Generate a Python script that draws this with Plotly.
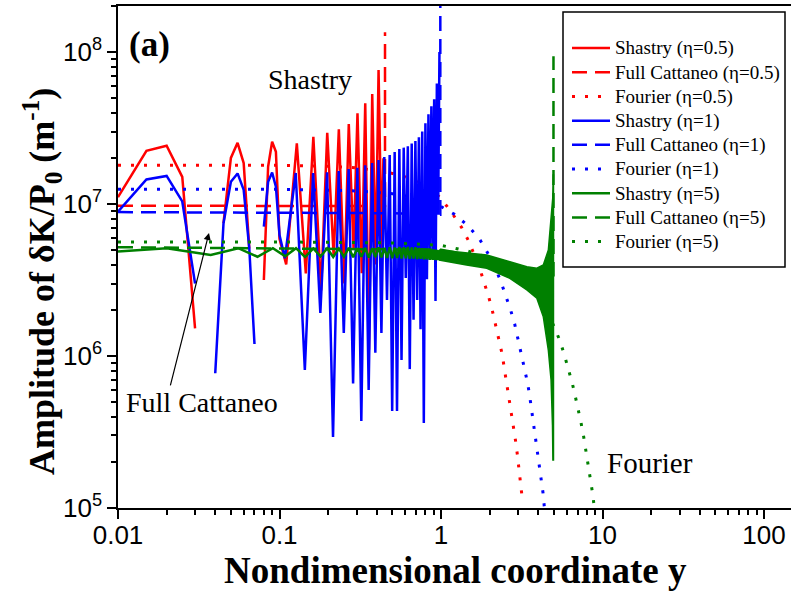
import plotly.graph_objects as go

RED = "#ff0000"
BLUE = "#0000ff"
GREEN = "#008000"

# ---------------- data ----------------
# Shastry, eta = 0.5
shastry_05_x = [0.01, 0.015, 0.02, 0.025, 0.03, 0.035, 0.045, 0.05, 0.055, 0.06, 0.065, 0.07,
                0.08, 0.085, 0.09, 0.095, 0.1, 0.11, 0.128, 0.1455, 0.162, 0.181, 0.1975, 0.2165,
                0.233, 0.252, 0.2685, 0.2875, 0.304, 0.323, 0.3395, 0.358, 0.375, 0.394, 0.4105,
                0.429, 0.44]
shastry_05_y = [1.11e7, 2.24e7, 2.42e7, 1.51e7, 1.52e6, None, 7.5e6, 2.01e7, 2.53e7, 1.86e7, 5.1e6, None,
                3.16e6, 1.76e7, 2.57e7, 2.21e7, 5.9e6, 4.0e6, 2.51e7, 3.5e6, 2.77e7, 2.7e6, 2.94e7, 4.5e6,
                3.10e7, 3.0e6, 3.36e7, 5.0e6, 3.95e7, 3.5e6, 4.60e7, 1.1e6, 5.29e7, 4.0e6, 7.62e7,
                5.0e6, 2.0e7]

# Full Cattaneo, eta = 0.5
cattaneo_05_x = [0.01, 0.45, 0.45]
cattaneo_05_y = [9.75e6, 9.7e6, 1.35e8]

# Fourier, eta = 0.5
fourier_05_x = [0.01, 0.1, 0.2, 0.3, 0.4, 0.5, 0.6, 0.7, 0.8, 0.9, 1.0, 1.165, 1.34, 1.49, 1.74,
                1.87, 1.98, 2.09, 2.19, 2.29, 2.39, 2.47, 2.55, 2.64, 2.72, 2.80, 2.89, 2.97, 3.03,
                3.10, 3.18]
fourier_05_y = [1.80e7, 1.80e7, 1.77e7, 1.73e7, 1.66e7, 1.59e7, 1.51e7, 1.41e7, 1.31e7, 1.21e7,
                1.09e7, 8.77e6, 7.03e6, 5.65e6, 3.74e6, 2.98e6, 2.42e6, 1.94e6, 1.58e6, 1.27e6,
                1.03e6, 8.2e5, 6.67e5, 5.37e5, 4.30e5, 3.45e5, 2.80e5, 2.24e5, 1.80e5, 1.45e5, 1.17e5]

# Shastry, eta = 1
shastry_1_x = [0.01, 0.015, 0.02, 0.025, 0.03, 0.035, 0.04, 0.045, 0.05, 0.055, 0.06, 0.065, 0.07,
               0.075, 0.08, 0.085, 0.09, 0.095, 0.1, 0.108,
               0.126, 0.1435, 0.1615, 0.179, 0.197, 0.2145, 0.2325, 0.25, 0.268, 0.2855, 0.3035,
               0.321, 0.339, 0.3565, 0.3745, 0.392, 0.41, 0.4275, 0.4455, 0.463, 0.481, 0.4985,
               0.5165, 0.534, 0.552, 0.5695, 0.5875, 0.605, 0.623, 0.6405, 0.6585, 0.676, 0.694,
               0.7115, 0.7295, 0.747, 0.765, 0.7825, 0.8005, 0.818, 0.836, 0.8535, 0.8715, 0.889,
               0.907, 0.9245, 0.9425, 0.96, 0.978]
shastry_1_y = [8.9e6, 1.45e7, 1.53e7, 1.04e7, 3.0e6, None, 7.7e5, 7.46e6, 1.40e7, 1.59e7, 1.24e7, 5.1e6, 1.2e6,
               None, 7.1e6, 1.40e7, 1.61e7, 1.30e7, 6.25e6, 4.4e6,
               1.60e7, 8.1e5, 1.60e7, 1.92e6, 1.62e7, 2.93e5, 1.65e7, 1.42e6, 1.70e7, 6.6e5, 1.73e7,
               3.74e5, 1.80e7, 5.97e5, 1.86e7, 1.05e6, 1.95e7, 1.42e6, 2.04e7, 2.34e6, 2.10e7, 4.35e5,
               2.2e7, 4.35e5, 2.3e7, 9.4e5, 2.35e7, 3.26e6, 2.4e7, 8.2e5, 2.5e7, 1.73e6, 2.6e7,
               2.34e6, 2.75e7, 1.5e6, 3.0e7, 3.62e5, 3.4e7, 3.2e6, 3.9e7, 4.28e6, 4.4e7, 4.9e6,
               4.9e7, 2.3e6, 6.2e7, 8.5e6, 1.0e8]

# Full Cattaneo, eta = 1
cattaneo_1_x = [0.01, 0.5, 0.99, 0.99]
cattaneo_1_y = [8.85e6, 8.7e6, 8.5e6, 3.0e8]

# Fourier, eta = 1
fourier_1_x = [0.01, 0.1, 0.3, 0.5, 0.7, 0.9, 0.99, 1.21, 1.476, 1.744, 1.963, 2.18, 2.36, 2.54,
               2.70, 2.86, 3.00, 3.14, 3.28, 3.42, 3.52, 3.62, 3.75, 3.86, 3.97, 4.06, 4.18, 4.28, 4.36]
fourier_1_y = [1.25e7, 1.25e7, 1.22e7, 1.17e7, 1.10e7, 1.02e7, 9.7e6, 8.56e6, 7.17e6, 5.80e6, 4.69e6,
               3.75e6, 3.04e6, 2.46e6, 2.00e6, 1.62e6, 1.29e6, 1.04e6, 8.4e5, 6.8e5, 5.7e5, 4.6e5,
               3.72e5, 2.99e5, 2.42e5, 1.95e5, 1.57e5, 1.26e5, 1.02e5]

# Shastry, eta = 5 : wavy line up to y = 1 ...
shastry_5_x = [0.01, 0.02, 0.0375, 0.0555, 0.073, 0.091, 0.1085, 0.1265, 0.144, 0.162, 0.1795, 0.1975,
               0.215, 0.233, 0.2505, 0.2685, 0.286, 0.304, 0.3215, 0.3395, 0.357, 0.375, 0.3925,
               0.4105, 0.428, 0.446, 0.4635, 0.4815, 0.499, 0.517, 0.5345, 0.5525, 0.57, 0.588,
               0.6055, 0.6235, 0.641, 0.659, 0.6765, 0.6945, 0.712, 0.73, 0.7475, 0.7655, 0.783,
               0.801, 0.8185, 0.8365, 0.854, 0.872, 0.8895, 0.9075, 0.925, 0.943, 0.9605, 0.9785]
shastry_5_y = [4.87e6, 5.12e6, 4.62e6, 5.12e6, 4.50e6, 5.12e6, 4.53e6, 5.12e6, 4.48e6, 5.10e6, 4.52e6,
               5.12e6, 4.48e6, 5.10e6, 4.50e6, 5.15e6, 4.47e6, 5.12e6, 4.50e6, 5.15e6, 4.45e6, 5.12e6,
               4.48e6, 5.18e6, 4.45e6, 5.15e6, 4.42e6, 5.20e6, 4.40e6, 5.18e6, 4.42e6, 5.22e6, 4.38e6,
               5.20e6, 4.40e6, 5.22e6, 4.36e6, 5.18e6, 4.38e6, 5.20e6, 4.35e6, 5.15e6, 4.36e6, 5.12e6,
               4.33e6, 5.10e6, 4.32e6, 5.08e6, 4.30e6, 5.05e6, 4.30e6, 5.02e6, 4.28e6, 5.0e6, 4.28e6,
               4.98e6]
# ... and the dense oscillation band from y = 1 to the front at y = 5 (upper / lower envelopes)
band_5_x_upper = [0.97, 1.44, 1.92, 2.67, 3.40, 3.92, 4.30, 4.62, 4.84, 4.92, 4.95, 4.97]
band_5_y_upper = [4.98e6, 4.74e6, 4.62e6, 4.17e6, 3.87e6, 3.78e6, 3.97e6, 4.98e6, 8.25e6, 1.1e7, 1.55e7, 1.55e7]
band_5_x_lower = [0.97, 1.44, 1.92, 2.67, 3.40, 3.92, 4.30, 4.47, 4.62, 4.80, 4.90, 4.93, 4.97]
band_5_y_lower = [4.28e6, 3.97e6, 3.78e6, 3.24e6, 2.72e6, 2.40e6, 1.81e6, 1.34e6, 1.09e6, 7.0e5, 3.5e5, 2.07e5, 2.07e5]

# Full Cattaneo, eta = 5
cattaneo_5_x = [0.01, 1.0, 2.0, 3.0, 4.0, 4.6, 4.97, 4.97]
cattaneo_5_y = [5.2e6, 5.0e6, 4.4e6, 3.9e6, 3.5e6, 3.4e6, 3.4e6, 9.4e7]

# Fourier, eta = 5
fourier_5_x = [0.01, 0.1, 0.5, 1.0, 1.47, 2.0, 2.5, 3.0, 3.5, 4.0, 4.5, 5.03, 5.45, 5.80, 6.18, 6.50,
               6.82, 7.05, 7.36, 7.65, 7.91, 8.17, 8.45, 8.69, 8.89]
fourier_5_y = [5.63e6, 5.63e6, 5.55e6, 5.35e6, 4.9e6, 4.4e6, 4.0e6, 3.6e6, 3.1e6, 2.6e6, 2.05e6, 1.56e6,
               1.26e6, 1.02e6, 8.18e5, 6.61e5, 5.29e5, 4.53e5, 3.64e5, 2.93e5, 2.37e5, 1.91e5, 1.53e5,
               1.24e5, 1.01e5]

x_tick_vals = [0.01, 0.1, 1, 10, 100]
x_tick_text = ["0.01", "0.1", "1", "10", "100"]
y_tick_vals = [1e5, 1e6, 1e7, 1e8]
y_tick_text = ["10<sup>5</sup>", "10<sup>6</sup>", "10<sup>7</sup>", "10<sup>8</sup>"]

# ---------------- figure ----------------
SERIF = "Liberation Serif"
SANS = "Liberation Sans"
DASH = "15px,8px"
DOT = "3px,10px"
LEG_TXT = '<span style="font-size:19px">{}</span>'

fig = go.Figure()


def add_line(x, y, name, color, dash, rank, width=2.5):
    fig.add_trace(go.Scatter(x=x, y=y, mode="lines", name=LEG_TXT.format(name), legendrank=rank,
                             connectgaps=False,
                             line=dict(color=color, width=width, dash=dash)))


add_line(shastry_05_x, shastry_05_y, "Shastry (η=0.5)", RED, "solid", 1)
add_line(cattaneo_05_x, cattaneo_05_y, "Full Cattaneo (η=0.5)", RED, DASH, 2)
add_line(fourier_05_x, fourier_05_y, "Fourier (η=0.5)", RED, DOT, 3, width=3)
add_line(shastry_1_x, shastry_1_y, "Shastry (η=1)", BLUE, "solid", 4)
add_line(cattaneo_1_x, cattaneo_1_y, "Full Cattaneo (η=1)", BLUE, DASH, 5)
add_line(fourier_1_x, fourier_1_y, "Fourier (η=1)", BLUE, DOT, 6, width=3)
add_line(cattaneo_5_x, cattaneo_5_y, "Full Cattaneo (η=5)", GREEN, DASH, 8)
add_line(fourier_5_x, fourier_5_y, "Fourier (η=5)", GREEN, DOT, 9, width=3)
add_line(shastry_5_x, shastry_5_y, "Shastry (η=5)", GREEN, "solid", 7)
fig.add_trace(go.Scatter(x=band_5_x_upper + band_5_x_lower[::-1],
                         y=band_5_y_upper + band_5_y_lower[::-1],
                         mode="lines", fill="toself", fillcolor=GREEN, showlegend=False,
                         line=dict(color=GREEN, width=1.5)))

minor_vals = [m * 10.0 ** k for k in range(-3, 9) for m in range(2, 10)]

axis_common = dict(type="log", showline=True, linecolor="black", linewidth=1.5,
                   ticks="outside", ticklen=9, tickwidth=1.5, tickcolor="black",
                   showgrid=False, zeroline=False,
                   minor=dict(ticks="outside", ticklen=5, tickwidth=1.5, tickcolor="black",
                              tickmode="array", tickvals=minor_vals, showgrid=False))

fig.update_xaxes(range=[-2, 2.167], tickmode="array", tickvals=x_tick_vals, ticktext=x_tick_text,
                 mirror=True, ticklabelstandoff=-6,
                 tickfont=dict(family=SANS, size=26, color="black"), **axis_common)
fig.update_yaxes(range=[5, 8.303], tickmode="array", tickvals=y_tick_vals, ticktext=y_tick_text,
                 tickfont=dict(family=SANS, size=26, color="black"), **axis_common)

W, H = 791, 592
L, R, T, B = 118, 0, 6, 84


def px(xp):
    return (xp - L) / (W - L - R)


def py(yp):
    return (H - B - yp) / (H - T - B)


annotations = [
    dict(text="<b>(a)</b>", x=px(149), y=py(44), font=dict(family=SERIF, size=35, color="black")),
    dict(text="Shastry", x=px(310), y=py(80), font=dict(family=SERIF, size=28, color="black")),
    dict(text="Full Cattaneo", x=px(202), y=py(402), font=dict(family=SERIF, size=28, color="black")),
    dict(text="Fourier", x=px(650), y=py(463), font=dict(family=SERIF, size=29, color="black")),
    dict(text="<b>Nondimensional coordinate y</b>", x=px(455), y=py(570),
         font=dict(family=SERIF, size=37, color="black")),
    dict(text="<b>Amplitude of δK/P<sub>0</sub> (m<sup>-1</sup>)</b>", x=px(42), y=py(282),
         textangle=-90, font=dict(family=SERIF, size=36, color="black")),
]
for a in annotations:
    a.update(xref="paper", yref="paper", showarrow=False, xanchor="center", yanchor="middle")

# arrow from the "Full Cattaneo" label to the dashed curves
annotations.append(dict(text="", x=-1.4365, y=6.81, xref="x", yref="y", showarrow=True,
                        ax=-39, ay=154, arrowhead=2, arrowsize=1.2, arrowwidth=1.2,
                        arrowcolor="black", standoff=0))

fig.update_layout(
    width=W, height=H,
    margin=dict(l=L, r=R, t=T, b=B, pad=0),
    paper_bgcolor="white", plot_bgcolor="white",
    annotations=annotations,
    showlegend=True,
    legend=dict(x=px(567), y=py(31), xanchor="left", yanchor="top", traceorder="normal",
                font=dict(family=SERIF, size=16.3, color="black"), itemwidth=38,
                bgcolor="rgba(0,0,0,0)", borderwidth=0, tracegroupgap=0),
    shapes=[dict(type="rect", xref="paper", yref="paper", x0=px(563), x1=px(785),
                 y0=py(267), y1=py(12), line=dict(color="black", width=1.5),
                 fillcolor="white", layer="below")],
)

fig.write_html("out.html")
